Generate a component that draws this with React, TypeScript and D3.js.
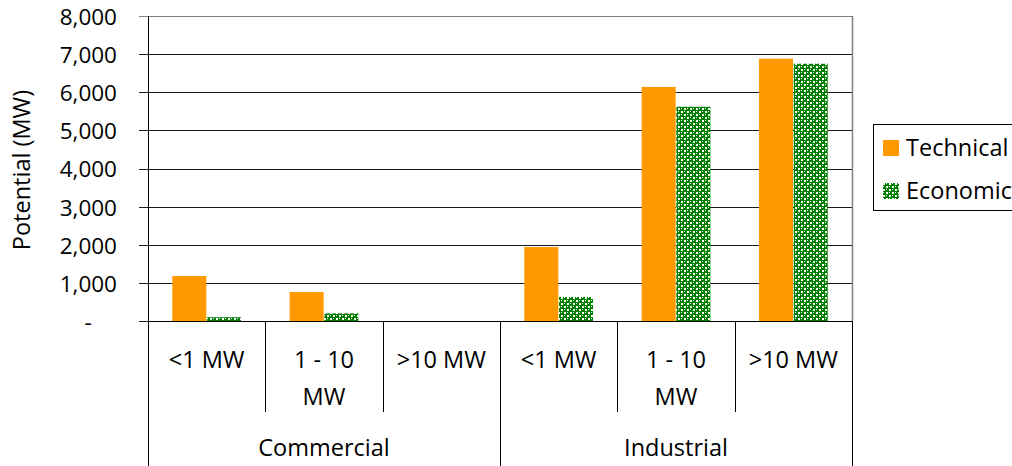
import React from "react";
import * as d3 from "d3";

const groups = ["Commercial", "Industrial"];
const subCategories = ["<1 MW", "1 - 10 MW", ">10 MW"];
const categoryLines = [["<1 MW"], ["1 - 10", "MW"], [">10 MW"]];
const seriesNames = ["Technical", "Economic"];
const technical = [1180, 760, 0, 1940, 6140, 6880];
const economic = [100, 200, 0, 630, 5620, 6750];
const yTicks = [0, 1000, 2000, 3000, 4000, 5000, 6000, 7000, 8000];

const W = 1012;
const H = 466;
const left = 148;
const right = 852;
const top = 16;
const bottom = 321;
const FONT = "'Open Sans', 'Noto Sans', sans-serif";

export default function App() {
  const slots = groups.flatMap((g) => subCategories.map((s) => `${g}|${s}`));
  const x = d3.scaleBand<string>().domain(slots).range([left, right]).paddingInner(0).paddingOuter(0);
  const inner = d3.scaleBand<string>().domain(seriesNames).range([0, x.bandwidth()]).paddingInner(0.02).paddingOuter(0.7);
  const y = d3.scaleLinear().domain([0, 8000]).range([bottom, top]);
  const fmt = d3.format(",");
  const data = [technical, economic];
  const fills = ["#FF9900", "url(#checker)"];

  return (
    <svg width={W} height={H} style={{ position: "absolute", left: 0, top: 0, display: "block" }}>
      <defs>
        <pattern id="checker" width={6} height={6} patternUnits="userSpaceOnUse">
          <rect width={6} height={6} fill="#008000" />
          <rect x={0} y={0} width={2} height={2} fill="#ffffff" />
          <rect x={3} y={3} width={2} height={2} fill="#ffffff" />
          <rect x={3} y={0} width={1} height={1} fill="#ffffff" />
          <rect x={0} y={3} width={1} height={1} fill="#ffffff" />
        </pattern>
      </defs>
      <rect width={W} height={H} fill="#fff" />
      {/* gridlines */}
      {yTicks.map((t) => (
        <line key={t} x1={left - 9} x2={right} y1={Math.round(y(t)) + 0.5} y2={Math.round(y(t)) + 0.5}
          stroke={t === 8000 ? "#808080" : "#1a1a1a"} strokeWidth={1} />
      ))}
      {/* right plot border */}
      <line x1={right + 0.5} x2={right + 0.5} y1={top} y2={bottom} stroke="#808080" strokeWidth={1.5} />
      {/* tick labels */}
      {yTicks.map((t) => (
        <text key={t} x={t === 0 ? 88 : 117} y={y(t) + 1} dy="0.35em" textAnchor={t === 0 ? "middle" : "end"}
          fontFamily={FONT} fontSize={22.5} fill="#000">
          {t === 0 ? "-" : fmt(t)}
        </text>
      ))}
      <text transform={`translate(22,170) rotate(-90)`} textAnchor="middle" dy="0.35em"
        fontFamily={FONT} fontSize={23.5} fill="#000">Potential (MW)</text>
      {/* bars */}
      {seriesNames.map((s, si) =>
        slots.map((slot, i) => {
          const v = data[si][i];
          if (!v) return null;
          return (
            <rect key={s + slot} x={(x(slot) as number) + (inner(s) as number)} y={y(v)}
              width={inner.bandwidth()} height={bottom - y(v)} fill={fills[si]} />
          );
        })
      )}
      {/* axis line */}
      <line x1={left + 0.5} x2={left + 0.5} y1={top} y2={H} stroke="#000" strokeWidth={1} />
      <line x1={left} x2={right} y1={bottom + 0.5} y2={bottom + 0.5} stroke="#000" strokeWidth={1} />
      {/* category separators */}
      {slots.map((slot, i) => {
        if (i === 0) return null;
        const xx = Math.round(x(slot) as number) + 0.5;
        const isGroup = i % subCategories.length === 0;
        return <line key={"sep" + slot} x1={xx} x2={xx} y1={bottom} y2={isGroup ? H : 412} stroke="#000" strokeWidth={1} />;
      })}
      <line x1={right + 0.5} x2={right + 0.5} y1={bottom} y2={H} stroke="#000" strokeWidth={1} />
      {/* category labels */}
      {slots.map((slot, i) => {
        const lines = categoryLines[i % subCategories.length];
        const cx = (x(slot) as number) + x.bandwidth() / 2;
        return (
          <text key={"lab" + slot} x={cx} textAnchor="middle" fontFamily={FONT} fontSize={23.5} fill="#000">
            {lines.map((l, li) => (
              <tspan key={li} x={cx} y={360 + li * 37} dy="0.35em">{l}</tspan>
            ))}
          </text>
        );
      })}
      {groups.map((g) => {
        const x0 = x(`${g}|${subCategories[0]}`) as number;
        const x1 = (x(`${g}|${subCategories[subCategories.length - 1]}`) as number) + x.bandwidth();
        return (
          <text key={g} x={(x0 + x1) / 2} y={448} dy="0.35em" textAnchor="middle" fontFamily={FONT} fontSize={23.5} fill="#000">{g}</text>
        );
      })}
      {/* legend */}
      <rect x={873.5} y={124.5} width={150} height={86} fill="#fff" stroke="#000" strokeWidth={1} />
      {seriesNames.map((s, si) => (
        <g key={s} transform={`translate(883,${140 + si * 43})`}>
          <rect x={0} y={0} width={16} height={16} fill={fills[si]} />
          <text x={23} y={8} dy="0.35em" fontFamily={FONT} fontSize={23.5} fill="#000">{s}</text>
        </g>
      ))}
    </svg>
  );
}
